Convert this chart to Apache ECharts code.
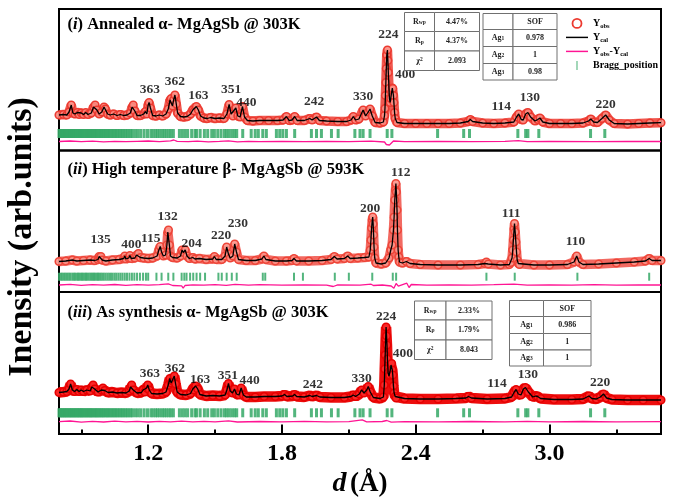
<!DOCTYPE html>
<html><head><meta charset="utf-8">
<script src="https://cdn.jsdelivr.net/npm/echarts@6/dist/echarts.min.js"></script>
<style>html,body{margin:0;padding:0;background:#fff}#c{width:677px;height:502px}</style>
</head><body><div id="c"></div>
<script>
// ---------------- DATA ----------------
// d (Å) vs intensity (arb. units) — fitted profile (Y_cal ≈ Y_obs)
const annealedProfile = [
[0.80,35.5],[0.82,36],[0.835,35.5],[0.845,38.5],[0.855,45.5],[0.862,37.5],[0.872,36.5],[0.882,38],[0.89,36],[0.90,37.5],[0.91,36],[0.92,38],[0.93,36],[0.945,37.5],[0.955,43.5],[0.962,45.5],[0.97,40.5],[0.98,36.5],[0.992,38.5],[1.002,43.5],[1.008,41.5],[1.018,36.5],[1.03,35.5],[1.045,36.5],[1.06,35],[1.075,36],[1.09,35],[1.105,35.5],[1.12,37.5],[1.128,43.5],[1.133,45.5],[1.14,39.5],[1.15,35],[1.165,35],[1.18,36.5],[1.188,39],[1.194,36.5],[1.20,45.5],[1.204,48],[1.21,42.5],[1.22,35],[1.235,34.5],[1.25,35.5],[1.265,34.5],[1.28,36.5],[1.29,41.5],[1.298,50.5],[1.303,52],[1.309,44.5],[1.314,50.5],[1.32,55.5],[1.326,46.5],[1.332,37.5],[1.345,34],[1.36,33.5],[1.375,34],[1.39,36.5],[1.40,40.5],[1.407,39.5],[1.416,44],[1.425,40.5],[1.435,34.5],[1.45,32.5],[1.465,32],[1.48,33],[1.50,32],[1.52,32.5],[1.54,32],[1.553,36.5],[1.563,46],[1.572,36.5],[1.58,34.5],[1.593,42.5],[1.602,34.5],[1.612,33.5],[1.623,44],[1.632,33.5],[1.645,30],[1.67,29.5],[1.70,30],[1.74,30],[1.78,30],[1.805,30.5],[1.82,34],[1.832,30],[1.845,30.5],[1.857,34],[1.868,30],[1.90,30],[1.925,32],[1.935,30.5],[1.955,33.5],[1.968,30],[2.00,29.5],[2.05,29],[2.09,29],[2.11,30.5],[2.12,34],[2.13,30.5],[2.145,31.5],[2.164,40.5],[2.175,34.5],[2.187,38.5],[2.195,41.5],[2.205,34.5],[2.218,28],[2.24,27.5],[2.255,28.5],[2.26,35],[2.262,42],[2.264,55],[2.266,68],[2.268,82],[2.27,95.5],[2.273,100.5],[2.275,90],[2.277,78],[2.28,62],[2.282,52],[2.285,48],[2.288,52],[2.292,58.5],[2.295,62.5],[2.297,62],[2.30,55],[2.302,48],[2.305,38],[2.308,32],[2.316,28],[2.35,27],[2.40,27],[2.45,27],[2.50,27],[2.55,27],[2.60,27.5],[2.635,29],[2.645,31],[2.655,29],[2.70,27.5],[2.75,27],[2.80,27.5],[2.84,28.5],[2.852,33.5],[2.862,36.5],[2.873,31],[2.882,30.5],[2.893,36.5],[2.903,38],[2.915,33.5],[2.935,29.5],[2.947,31],[2.957,32.5],[2.97,28.5],[3.00,27],[3.05,27],[3.10,27],[3.15,27.5],[3.175,29.5],[3.185,31.5],[3.198,28.5],[3.215,28],[3.235,32],[3.252,35.5],[3.268,30.5],[3.29,27],[3.35,26.5],[3.40,27],[3.45,27.5],[3.50,27.8]
];
const annealedDiff = [
[0.80,9],[0.85,9.5],[0.90,8.8],[0.95,9.3],[1.00,8.7],[1.05,9.2],[1.10,8.8],[1.15,9.2],[1.20,9.5],[1.25,8.8],[1.30,9.6],[1.315,10.5],[1.33,9.2],[1.38,8.8],[1.42,9.3],[1.47,8.7],[1.52,9.1],[1.56,9.6],[1.60,8.7],[1.65,9.2],[1.70,8.9],[1.80,9.1],[1.90,8.8],[2.00,9.2],[2.10,8.9],[2.20,9.3],[2.26,8.5],[2.268,6],[2.275,8],[2.282,5.5],[2.29,7.5],[2.30,9.5],[2.35,8.9],[2.50,9.1],[2.65,8.8],[2.80,9.2],[2.86,9.8],[2.90,8.9],[3.00,9.1],[3.20,8.8],[3.35,9.2],[3.50,9.0]
];
const hotProfile = [
[0.80,30.5],[0.83,31],[0.86,32],[0.88,31],[0.91,31.5],[0.94,32],[0.96,31.5],[0.975,32.5],[0.98,35.5],[0.984,33.5],[0.988,35.5],[0.994,32],[1.01,31],[1.04,32],[1.07,32.5],[1.09,33.5],[1.095,36],[1.10,33],[1.113,34],[1.118,36.5],[1.124,33.5],[1.14,34],[1.148,37],[1.156,38.5],[1.165,34.5],[1.18,34],[1.20,33.5],[1.22,34],[1.24,36],[1.248,42],[1.254,45.5],[1.26,40],[1.268,36],[1.278,37],[1.284,47],[1.288,60],[1.291,62],[1.295,47],[1.30,36],[1.31,34.5],[1.33,34],[1.345,36],[1.352,42],[1.358,39.5],[1.366,42],[1.374,36],[1.385,33.5],[1.40,34.5],[1.41,33],[1.43,33.5],[1.46,32.5],[1.49,33],[1.497,35.5],[1.505,32.5],[1.53,32.5],[1.545,36],[1.552,45],[1.56,38],[1.568,34],[1.58,36],[1.588,48],[1.596,40],[1.605,32.5],[1.64,31.5],[1.68,31.5],[1.71,33],[1.719,36],[1.728,32.5],[1.77,31],[1.82,31],[1.845,31.5],[1.854,33.5],[1.865,31],[1.92,31],[1.98,31.5],[2.02,32.5],[2.035,35.5],[2.047,33],[2.08,33.5],[2.095,36],[2.106,33.5],[2.14,34],[2.17,34.5],[2.19,35],[2.196,42],[2.199,52],[2.202,64],[2.205,72],[2.207,75],[2.209,68],[2.211,57],[2.213,45],[2.216,34],[2.222,29],[2.245,28],[2.265,29],[2.28,34],[2.288,42],[2.294,47],[2.30,62],[2.303,75],[2.306,92],[2.309,102],[2.311,108.5],[2.313,100],[2.316,82],[2.318,62],[2.321,42],[2.324,35],[2.327,30],[2.34,29],[2.358,30.5],[2.375,28.5],[2.42,27.5],[2.50,27],[2.60,27],[2.68,27.5],[2.71,28.5],[2.717,30],[2.725,28],[2.78,27],[2.82,27.5],[2.826,29.5],[2.832,34],[2.835,42],[2.838,52],[2.841,63],[2.843,68.5],[2.846,60],[2.849,50],[2.852,40],[2.855,32],[2.86,28.5],[2.865,27.5],[2.93,27],[3.00,27],[3.08,27.5],[3.11,30],[3.122,36],[3.132,30],[3.15,27.5],[3.22,28],[3.30,29],[3.38,30],[3.43,31],[3.447,33.5],[3.46,31.5],[3.50,31.5]
];
const hotDiff = [
[0.80,7],[0.85,7.6],[0.90,6.6],[0.95,7.4],[1.00,6.8],[1.05,7.5],[1.10,6.7],[1.15,7.3],[1.20,6.9],[1.25,7.4],[1.29,8.2],[1.31,6.5],[1.35,6.2],[1.357,3.8],[1.365,6.5],[1.40,7.2],[1.45,6.8],[1.50,7.3],[1.55,6.7],[1.59,7.6],[1.65,6.9],[1.70,7.3],[1.80,6.8],[1.90,7.2],[2.00,6.9],[2.03,5.5],[2.05,7.1],[2.15,6.8],[2.20,7.8],[2.21,6.5],[2.25,7],[2.29,6],[2.302,3.8],[2.312,8.5],[2.322,5.8],[2.36,8.8],[2.37,4.5],[2.38,7.5],[2.45,6.8],[2.55,7.2],[2.65,6.9],[2.75,7.3],[2.84,7.8],[2.90,6.8],[3.00,7.2],[3.10,6.9],[3.20,7.3],[3.30,6.8],[3.40,7.2],[3.50,7.0]
];
const synthProfile = [
[0.80,41.5],[0.82,42],[0.835,42.5],[0.845,45],[0.852,50],[0.86,44],[0.87,42.5],[0.88,44.5],[0.89,42.5],[0.90,44],[0.91,42.5],[0.925,44],[0.94,43],[0.947,47],[0.953,49],[0.96,45],[0.975,42],[0.99,44],[0.997,46],[1.005,43.5],[1.02,41.5],[1.04,42],[1.06,41],[1.08,41.5],[1.10,41],[1.115,43],[1.121,47],[1.126,49],[1.133,44],[1.15,41],[1.17,41.5],[1.177,44],[1.185,42],[1.193,46],[1.198,49],[1.205,44],[1.215,40.5],[1.24,40],[1.265,40.5],[1.28,42],[1.29,49],[1.297,55.5],[1.303,51],[1.309,53],[1.317,58],[1.323,50],[1.33,42],[1.345,39.5],[1.37,39],[1.39,40.5],[1.40,45],[1.406,44],[1.413,48],[1.422,45],[1.432,39.5],[1.46,38],[1.49,38.5],[1.52,38],[1.545,39],[1.553,44],[1.56,50.5],[1.568,43],[1.578,41],[1.587,45],[1.596,40],[1.607,39],[1.617,46],[1.627,39],[1.64,37],[1.68,37],[1.72,37.5],[1.77,37.5],[1.80,38],[1.812,39.5],[1.822,37.5],[1.848,38],[1.857,39.5],[1.866,37.5],[1.90,37],[1.925,38.5],[1.935,37.5],[1.955,38.5],[1.97,37],[2.02,36.5],[2.08,36.5],[2.11,37.5],[2.12,39],[2.13,37.5],[2.147,40],[2.157,44],[2.168,41],[2.18,44],[2.187,47.5],[2.196,42],[2.21,36.5],[2.24,35.5],[2.255,37],[2.259,49],[2.261,65],[2.263,79],[2.265,95],[2.267,107],[2.269,98],[2.271,89],[2.273,75],[2.276,61],[2.28,58],[2.283,59],[2.286,64],[2.289,69],[2.292,70.5],[2.295,64],[2.297,59],[2.30,48],[2.303,41],[2.308,37.5],[2.312,36],[2.35,35.5],[2.42,35],[2.50,35],[2.58,35.5],[2.625,36],[2.637,37.5],[2.65,36],[2.72,35],[2.80,35.5],[2.83,37],[2.842,42],[2.85,44.5],[2.86,40],[2.872,39],[2.883,45],[2.892,46.5],[2.905,42],[2.925,37],[2.938,38],[2.947,37.5],[2.96,35.5],[3.02,34.5],[3.10,34.5],[3.15,35],[3.168,37],[3.177,38],[3.19,35.5],[3.21,35],[3.228,37],[3.242,40],[3.256,36],[3.28,34.5],[3.35,34],[3.42,34],[3.50,34]
];
const synthDiff = [
[0.80,12.3],[0.85,13],[0.90,11.8],[0.95,12.6],[1.00,12],[1.05,12.8],[1.10,12.1],[1.15,12.6],[1.20,12],[1.25,12.7],[1.30,12.2],[1.35,12.8],[1.40,12.1],[1.45,12.6],[1.50,12.2],[1.56,13.2],[1.60,12],[1.70,12.5],[1.80,12.2],[1.90,12.6],[2.00,12.1],[2.10,12.4],[2.16,14.2],[2.18,12.2],[2.25,12.5],[2.27,13.5],[2.29,11.8],[2.35,12.4],[2.50,12.1],[2.65,12.5],[2.80,12.2],[2.90,12.6],[3.00,12.1],[3.15,12.5],[3.30,12.2],[3.50,12.3]
];
// Bragg reflection positions (d, Å)
const alphaBragg = [0.800,0.805,0.809,0.814,0.818,0.823,0.827,0.832,0.836,0.841,0.846,0.850,0.855,0.859,0.864,0.869,0.873,0.878,0.883,0.887,0.892,0.897,0.901,0.906,0.911,0.916,0.921,0.926,0.931,0.936,0.941,0.946,0.951,0.957,0.962,0.967,0.972,0.978,0.983,0.989,0.994,1.000,1.006,1.012,1.018,1.024,1.030,1.037,1.043,1.050,1.056,1.063,1.070,1.077,1.084,1.091,1.099,1.106,1.114,1.122,1.130,1.143,1.155,1.167,1.182,1.197,1.212,1.222,1.233,1.242,1.252,1.263,1.272,1.282,1.293,1.302,1.313,1.340,1.353,1.365,1.377,1.395,1.410,1.417,1.433,1.452,1.467,1.485,1.497,1.512,1.527,1.542,1.552,1.563,1.575,1.587,1.597,1.624,1.662,1.680,1.694,1.714,1.730,1.775,1.790,1.804,1.820,1.857,1.932,1.955,1.977,2.022,2.052,2.127,2.150,2.164,2.195,2.272,2.293,2.498,2.615,2.641,2.858,2.893,2.903,2.952,3.184,3.248];
const betaBragg = [0.800,0.807,0.813,0.820,0.826,0.833,0.839,0.846,0.852,0.860,0.866,0.872,0.879,0.885,0.891,0.897,0.903,0.909,0.915,0.921,0.927,0.933,0.940,0.946,0.951,0.957,0.963,0.969,0.975,0.981,0.987,0.994,1.001,1.009,1.017,1.025,1.033,1.041,1.050,1.058,1.067,1.076,1.085,1.095,1.105,1.116,1.127,1.138,1.150,1.163,1.177,1.190,1.200,1.237,1.260,1.290,1.313,1.350,1.362,1.372,1.388,1.402,1.417,1.433,1.455,1.515,1.530,1.552,1.575,1.597,1.714,1.725,1.854,1.894,2.037,2.100,2.205,2.297,2.312,2.717,2.844,3.125,3.447];
// Peak (hkl) annotations: [d, intensity, label]
const annealedPeaks = [[1.208,60.5,'363'],[1.320,68.8,'362'],[1.425,54.8,'163'],[1.572,61.2,'351'],[1.640,47.8,'440'],[1.944,48.8,'242'],[2.164,53.8,'330'],[2.277,115.5,'224'],[2.352,75.5,'400'],[2.784,43.8,'114'],[2.912,52.8,'130'],[3.252,45.5,'220']];
const hotPeaks = [[0.987,52.7,'135'],[1.125,47.7,'400'],[1.212,53.7,'115'],[1.287,75.3,'132'],[1.395,48,'204'],[1.527,56,'220'],[1.602,68.7,'230'],[2.195,83,'200'],[2.333,119.7,'112'],[2.828,78.7,'111'],[3.117,50.3,'110']];
const synthPeaks = [[1.208,60.7,'363'],[1.320,65.7,'362'],[1.433,54.7,'163'],[1.557,58,'351'],[1.655,53,'440'],[1.939,49.7,'242'],[2.157,55,'330'],[2.267,117.3,'224'],[2.342,80.7,'400'],[2.765,50.7,'114'],[2.903,59,'130'],[3.227,51.3,'220']];
// Panel titles
const panelTitles = [['i',' Annealed α- MgAgSb @ 303K'],['ii',' High temperature β- MgAgSb @ 593K'],['iii',' As synthesis α- MgAgSb @ 303K']];
// Refinement tables
const annealedStats = [['R_wp','4.47%'],['R_p','4.37%'],['χ^2','2.093']];
const annealedSOF = [['','SOF'],['Ag_1','0.978'],['Ag_2','1'],['Ag_3','0.98']];
const synthStats = [['R_wp','2.33%'],['R_p','1.79%'],['χ^2','8.043']];
const synthSOF = [['','SOF'],['Ag_1','0.986'],['Ag_2','1'],['Ag_3','1']];
// Axis
const majorTicks = [1.2, 1.8, 2.4, 3.0];
const minorTicks = [0.9, 1.5, 2.1, 2.7, 3.3];
const xMin = 0.8, xMax = 3.5;
const seriesNames = ['Y_obs','Y_cal','Y_obs-Y_cal','Bragg_position'];

// ---------------- RENDER ----------------
const FONT = 'Liberation Serif';
const chart = echarts.init(document.getElementById('c'), null, {renderer:'canvas'});

const panels = [
  {top:9, height:141.5, profile:annealedProfile, diff:annealedDiff, bragg:alphaBragg, braggLevel:17, braggH:9, braggW:3, peaks:annealedPeaks,
   band:'rgba(238,66,56,0.88)', ring:'#ec3a30', fill:'rgba(250,140,130,0.9)', bw:9.5},
  {top:150.5, height:141.5, profile:hotProfile, diff:hotDiff, bragg:betaBragg, braggLevel:15.3, braggH:8, braggW:2, peaks:hotPeaks,
   band:'rgba(240,80,70,0.85)', ring:'#ee4538', fill:'rgba(250,150,140,0.9)', bw:9.5},
  {top:292, height:142, profile:synthProfile, diff:synthDiff, bragg:alphaBragg, braggLevel:21.2, braggH:9, braggW:3, peaks:synthPeaks,
   band:'rgba(236,0,0,0.95)', ring:'#e60000', fill:'rgba(250,40,40,1)', bw:10.5}
];

const grid = panels.map(p => ({left:59, right:16, top:p.top, height:p.height, show:true, borderColor:'#000', borderWidth:2, backgroundColor:'transparent'}));
const xAxis = panels.map((p,i) => ({
  gridIndex:i, type:'value', min:xMin, max:xMax, show:i===2, position:'bottom',
  splitLine:{show:false},
  axisLine:{show:true, onZero:false, lineStyle:{color:'#000', width:2}},
  axisTick:{show:true, inside:true, length:9.5, customValues:majorTicks, lineStyle:{color:'#000', width:2}},
  axisLabel:{show:true, customValues:majorTicks, formatter:v=>v.toFixed(1), fontFamily:FONT, fontWeight:'bold', fontSize:24, color:'#000', margin:8},
  name: i===2 ? '{i|d} {n|(Å)}' : '', nameLocation:'middle', nameGap:36,
  nameTextStyle:{rich:{i:{fontFamily:FONT, fontStyle:'italic', fontWeight:'bold', fontSize:28, color:'#000'}, n:{fontFamily:FONT, fontWeight:'bold', fontSize:27, color:'#000'}}}
}));
xAxis.push({gridIndex:2, type:'value', min:xMin, max:xMax, position:'bottom',
  splitLine:{show:false}, axisLine:{show:false}, axisLabel:{show:false},
  axisTick:{show:true, inside:true, length:4.5, customValues:minorTicks, lineStyle:{color:'#000', width:2}}});
const yAxis = panels.map((p,i) => ({gridIndex:i, type:'value', min:0, max:p.height, show:false}));

const series = [];
panels.forEach((p,i) => {
  series.push({type:'line', name:'Y_obs', xAxisIndex:i, yAxisIndex:i, data:p.profile, z:2,
    symbol:'circle', symbolSize:7.5, showAllSymbol:true,
    itemStyle:{color:p.fill, borderColor:p.ring, borderWidth:1.6},
    lineStyle:{color:p.band, width:p.bw}, silent:true});
  series.push({type:'line', name:'Y_cal', xAxisIndex:i, yAxisIndex:i, data:p.profile, z:4,
    symbol:'none', itemStyle:{color:'#000'}, lineStyle:{color:'#000', width:1.3}, silent:true});
  series.push({type:'line', name:'Y_obs-Y_cal', xAxisIndex:i, yAxisIndex:i, data:p.diff, z:4,
    symbol:'none', itemStyle:{color:'#ff1493'}, lineStyle:{color:'#ff1493', width:1.3}, silent:true});
  series.push({type:'scatter', name:'Bragg_position', xAxisIndex:i, yAxisIndex:i, z:3,
    data:p.bragg.map(d => [d, p.braggLevel]), symbol:'rect', symbolSize:[p.braggW, p.braggH],
    itemStyle:{color:'#35a866', opacity:0.85}, silent:true});
  series.push({type:'scatter', name:'peaks'+i, xAxisIndex:i, yAxisIndex:i, z:6, data:p.peaks,
    symbolSize:1, itemStyle:{color:'rgba(0,0,0,0)'}, silent:true,
    label:{show:true, position:'inside', formatter:q=>q.data[2], fontFamily:FONT, fontWeight:'bold', fontSize:13.5, color:'#000'}});
});

// graphics: titles, y label, tables
const elements = [];
const titleY = [25, 170, 312.3];
panelTitles.forEach((t,i) => {
  elements.push({type:'text', x:67.5, y:titleY[i], z:100, style:{
    text:'{n|(}{i|'+t[0]+'}{n|)'+t[1]+'}', align:'left', verticalAlign:'middle',
    rich:{n:{font:'bold 16.5px "Liberation Serif"', fill:'#000'}, i:{font:'italic bold 16.5px "Liberation Serif"', fill:'#000'}}}});
});
elements.push({type:'text', x:22, y:237, rotation:Math.PI/2, z:100, style:{
  text:'Inensity (arb.units)', font:'bold 34px "Liberation Serif"', fill:'#000', align:'center', verticalAlign:'middle'}});

function richCell(t){
  return t.replace(/([^_^]+)|_([^_^]+)|\^([^_^]+)/g, (m,a,b,c) =>
    a!==undefined ? '{n|'+a+'}' : b!==undefined ? '{s|'+b+'}' : '{p|'+c+'}');
}
const cellRich = {
  n:{font:'bold 8px "Liberation Serif"', fill:'#222'},
  s:{font:'bold 5.5px "Liberation Serif"', fill:'#222', verticalAlign:'bottom'},
  p:{font:'bold 5.5px "Liberation Serif"', fill:'#222', verticalAlign:'top'}
};
function addTable(rows, colX, rowY){
  rows.forEach((r, ri) => {
    r.forEach((txt, ci) => {
      const x0 = colX[ci], x1 = colX[ci+1], y0 = rowY[ri], y1 = rowY[ri+1];
      elements.push({type:'rect', z:90, shape:{x:x0, y:y0, width:x1-x0, height:y1-y0},
        style:{fill:'#fff', stroke:'#707070', lineWidth:1}});
      if (txt) elements.push({type:'text', z:91, x:(x0+x1)/2, y:(y0+y1)/2, style:{
        text:richCell(txt), align:'center', verticalAlign:'middle', rich:cellRich}});
    });
  });
}
addTable(annealedStats, [404.5,434.5,479.5], [12.5,31.5,51,70.5]);
addTable(annealedSOF, [483,513,557], [13.5,29.5,46.5,63.5,80]);
addTable(synthStats, [414.5,446,492], [301,320,340,359.5]);
addTable(synthSOF, [509.5,543.5,591], [300.5,316.5,333.5,350,366]);

const legendText = {'Y_obs':'{y|Y}{s|obs}', 'Y_cal':'{y|Y}{s|cal}', 'Y_obs-Y_cal':'{y|Y}{s|obs}{y|-Y}{s|cal}', 'Bragg_position':'{y|Bragg_position}'};

chart.setOption({
  animation:false,
  backgroundColor:'#fff',
  grid, xAxis, yAxis, series,
  legend:{
    left:561, top:13, orient:'vertical', itemWidth:22, itemHeight:9, itemGap:3, selectedMode:false, z:120,
    data:[
      {name:seriesNames[0], icon:'circle', itemStyle:{color:'#fff', borderColor:'#ec3a30', borderWidth:1.8}},
      {name:seriesNames[1], icon:'path://M0,0H30V2H0Z', itemStyle:{color:'#000', borderWidth:0}},
      {name:seriesNames[2], icon:'path://M0,0H30V2H0Z', itemStyle:{color:'#ff1493', borderWidth:0}},
      {name:seriesNames[3], icon:'path://M0,0H1.2V10H0Z', itemStyle:{color:'#35a866', borderWidth:0}}
    ],
    formatter:n => legendText[n],
    textStyle:{rich:{
      y:{fontFamily:FONT, fontWeight:'bold', fontSize:10, color:'#000', lineHeight:12},
      s:{fontFamily:FONT, fontWeight:'bold', fontSize:6.5, color:'#000', verticalAlign:'bottom', lineHeight:12}}}
  },
  graphic:{elements}
});
</script>
</body></html>
